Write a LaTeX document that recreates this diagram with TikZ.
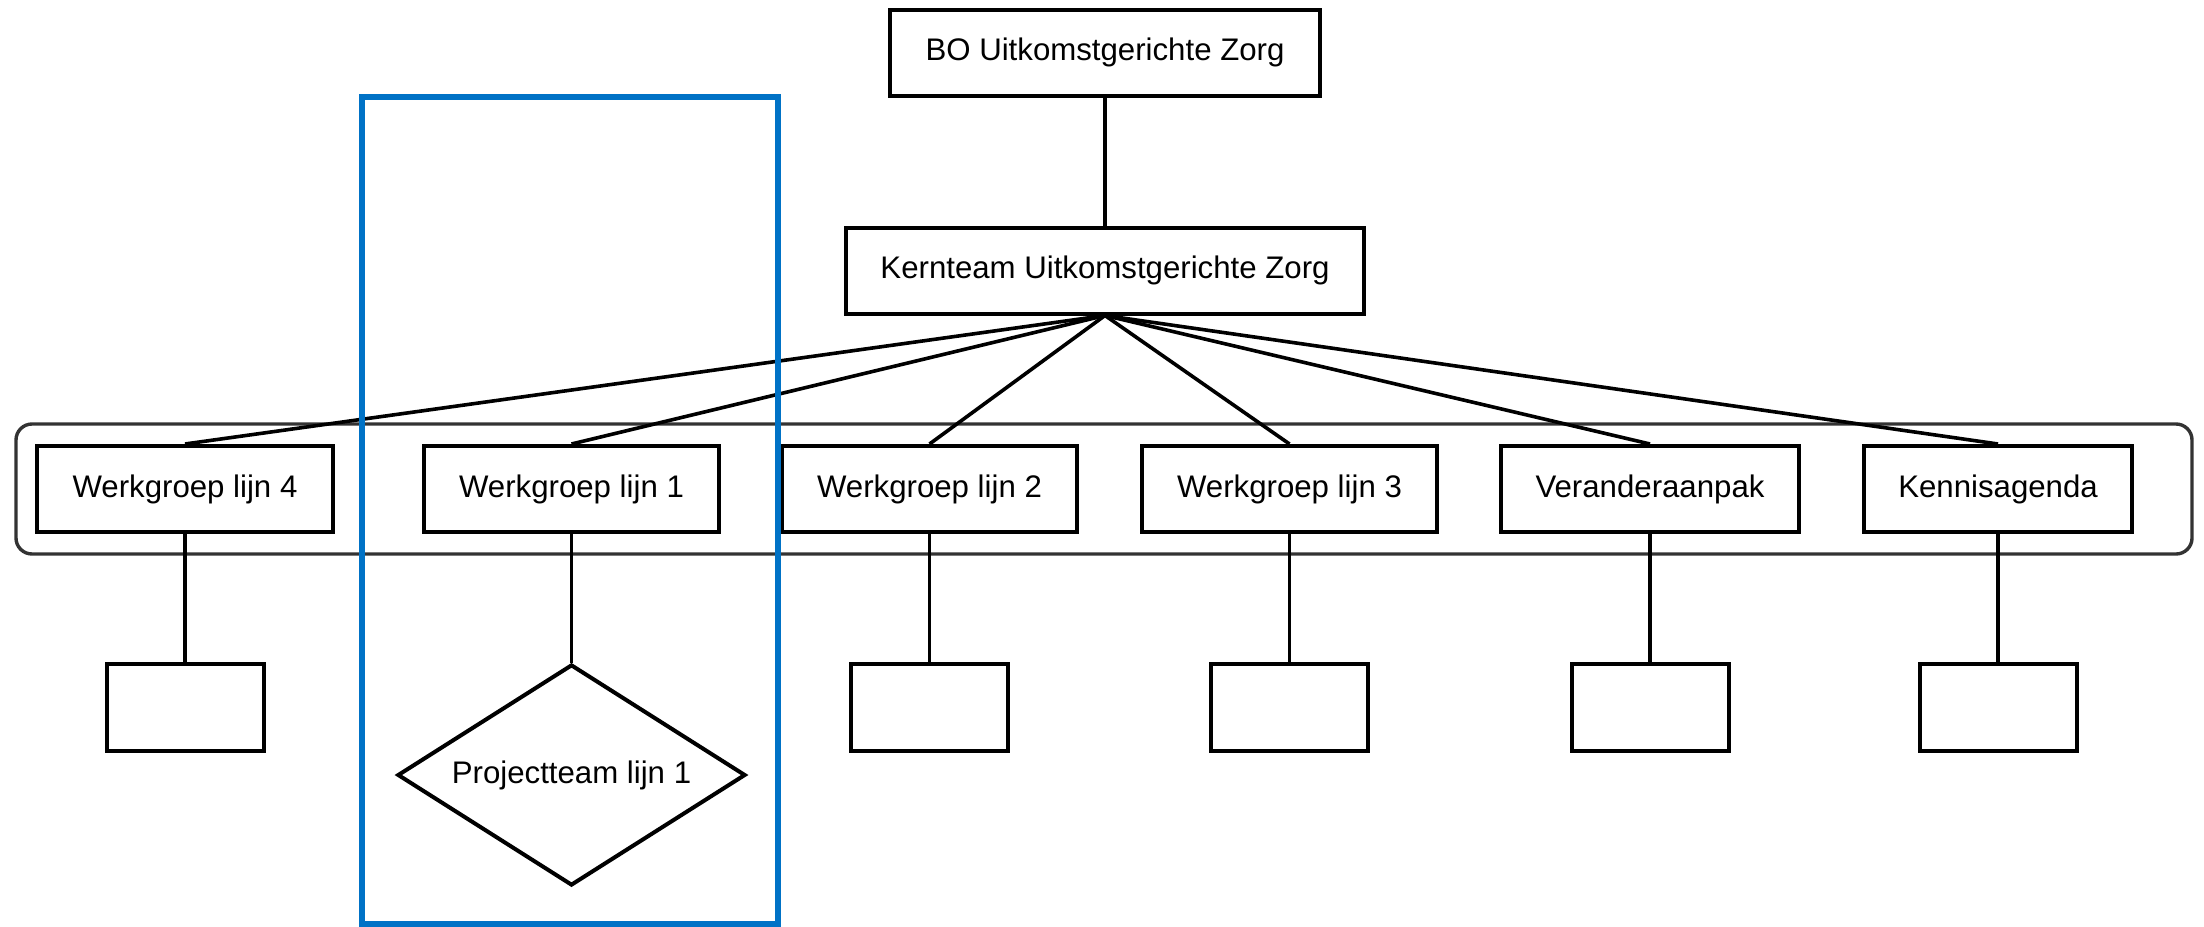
\documentclass[tikz,border=0pt]{standalone}
\usepackage{fontspec}
\setmainfont{Liberation Sans}
\usetikzlibrary{shapes.geometric}
\definecolor{hlblue}{RGB}{0,114,198}
\definecolor{grpgray}{RGB}{51,51,51}
\begin{document}
\begin{tikzpicture}[x=0.5pt,y=-0.5pt,
  box/.style={draw=black,line width=2pt,fill=white,inner sep=0pt,
    minimum height=43pt,font=\fontsize{15.6}{18}\selectfont},
  smallbox/.style={draw=black,line width=2pt,fill=white,inner sep=0pt,
    minimum width=78.5pt,minimum height=43.5pt},
  ruit/.style={draw=black,line width=2pt,fill=white,shape=diamond,inner sep=0pt,
    aspect=1.575,minimum width=174pt,minimum height=110.5pt,font=\fontsize{15.6}{18}\selectfont},
  link/.style={draw=black,line width=1.8pt},
  group/.style={draw=grpgray,line width=1.7pt,rounded corners=8pt},
  highlight/.style={draw=hlblue,line width=3pt}
]
\useasboundingbox (0,0) rectangle (2204,926);
% group frame
\draw[group] (16,424) rectangle (2192,554);
% nodes
\node[box,minimum width=215pt] (bo) at (1105,52.5) {BO Uitkomstgerichte Zorg};
\node[box,minimum width=259pt] (kern) at (1105,270.5) {Kernteam Uitkomstgerichte Zorg};
\node[box,minimum width=148pt] (w4) at (185,489) {Werkgroep lijn 4};
\node[box,minimum width=147.5pt] (w1) at (571.5,489) {Werkgroep lijn 1};
\node[box,minimum width=147.5pt] (w2) at (929.5,489) {Werkgroep lijn 2};
\node[box,minimum width=147.5pt] (w3) at (1289.5,489) {Werkgroep lijn 3};
\node[box,minimum width=149pt] (ver) at (1650,489) {Veranderaanpak};
\node[box,minimum width=134pt] (ken) at (1998,489) {Kennisagenda};
\node[smallbox] (s4) at (185,707.5) {};
\node[ruit] (p1) at (571.5,775) {Projectteam lijn 1};
\node[smallbox] (s2) at (929.5,707.5) {};
\node[smallbox] (s3) at (1289.5,707.5) {};
\node[smallbox] (sv) at (1650,707.5) {};
\node[smallbox] (sk) at (1998,707.5) {};
% connectors
\draw[link] (bo.south) -- (kern.north);
\foreach \t in {w4,w1,w2,w3,ver,ken}{
  \draw[link] (kern.south) -- (\t.north);
}
\draw[link] (w4.south) -- (s4.north);
\draw[link] (w1.south) -- (p1.north);
\draw[link] (w2.south) -- (s2.north);
\draw[link] (w3.south) -- (s3.north);
\draw[link] (ver.south) -- (sv.north);
\draw[link] (ken.south) -- (sk.north);
% highlight frame
\draw[highlight] (362,97) rectangle (778,924);
\end{tikzpicture}
\end{document}
